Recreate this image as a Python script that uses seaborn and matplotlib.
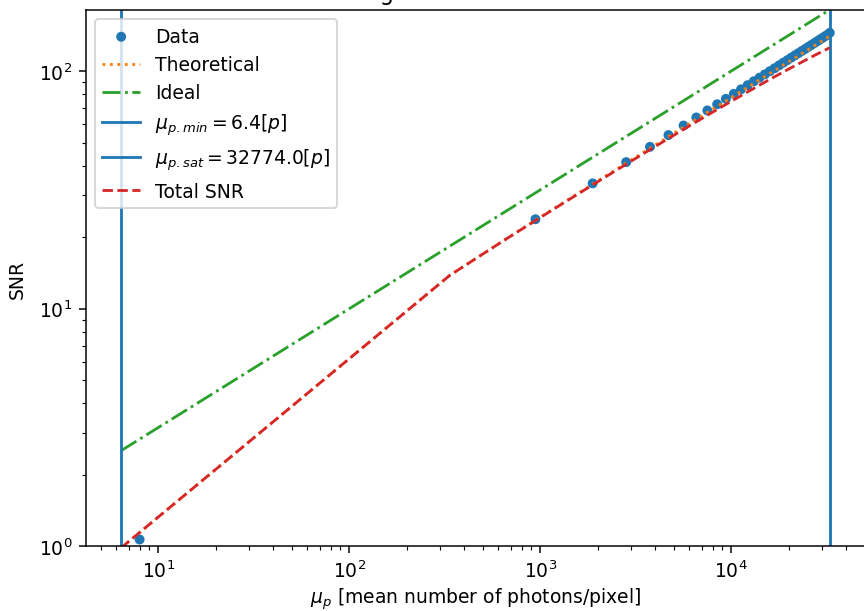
import matplotlib
matplotlib.use('Agg')
import matplotlib.pyplot as plt
import seaborn as sns

# measured data (mean photons per pixel vs SNR)
data_mu = [8, 945, 1883, 2820, 3758, 4695, 5632, 6570, 7507, 8445, 9382,
           10319, 11257, 12194, 13132, 14069, 15006, 15944, 16881, 17819,
           18756, 19693, 20631, 21568, 22506, 23443, 24380, 25318, 26255,
           27193, 28130, 29067, 30005, 30942, 31880, 32817]
data_snr = [1.07, 23.8, 33.7, 41.4, 48.0, 53.8, 59.0, 63.8, 68.3, 72.5, 76.4,
            80.2, 83.8, 87.2, 90.6, 93.8, 96.9, 99.9, 102.8, 105.7, 108.5,
            111.2, 113.9, 116.5, 119.0, 121.5, 123.9, 126.4, 128.7, 131.0,
            133.3, 135.6, 137.8, 140.0, 142.1, 144.9]

# theoretical / total SNR curves
curve_mu = [6.4, 337, 668, 999, 1330, 1992, 2985, 3978, 5302, 6957, 8943,
            11260, 13908, 16887, 20197, 23838, 27810, 32774]
theo_snr = [0.987, 13.84, 19.74, 24.26, 28.05, 34.41, 42.19, 48.74, 56.30,
            64.52, 73.17, 82.13, 91.29, 100.6, 110.0, 119.5, 129.1, 140.2]
total_snr = [0.987, 13.84, 19.72, 24.17, 27.91, 34.15, 41.72, 48.02, 55.2,
             62.87, 70.8, 78.8, 86.8, 94.7, 102.4, 109.9, 117.3, 125.3]

ideal_mu = [6.4, 32774]
ideal_snr = [2.53, 181.0]

mu_min = 6.4
mu_sat = 32774.0

fig = plt.figure(figsize=(6.4, 4.533), dpi=135)
ax = fig.add_axes([0.099, 0.1054, 0.902, 0.877])

sns.scatterplot(x=data_mu, y=data_snr, ax=ax, color='C0', marker='o', s=28,
                edgecolor='none', label='Data', zorder=2)
sns.lineplot(x=curve_mu, y=theo_snr, ax=ax, color='C1', linestyle=':',
             linewidth=1.5, label='Theoretical')
sns.lineplot(x=ideal_mu, y=ideal_snr, ax=ax, color='C2', linestyle='-.',
             linewidth=1.5, label='Ideal')
ax.axvline(mu_min, color='C0', linewidth=1.5,
           label=r'$\mu_{p.min} = %.1f[p]$' % mu_min)
ax.axvline(mu_sat, color='C0', linewidth=1.5,
           label=r'$\mu_{p.sat} = %.1f[p]$' % mu_sat)
sns.lineplot(x=curve_mu, y=total_snr, ax=ax, color='C3', linestyle='--',
             linewidth=1.5, label='Total SNR')

ax.set_xscale('log')
ax.set_yscale('log')
ax.set_xlim(4.17, 50100)
ax.set_ylim(1, 181)
ax.set_title('Signal to Noise Ratio', fontsize=12)
ax.set_xlabel(r'$\mu_p$ [mean number of photons/pixel]', labelpad=2.5)
ax.set_ylabel('SNR', labelpad=6.5)
ax.legend(loc='upper left')

fig.savefig('out.png', dpi=135)
